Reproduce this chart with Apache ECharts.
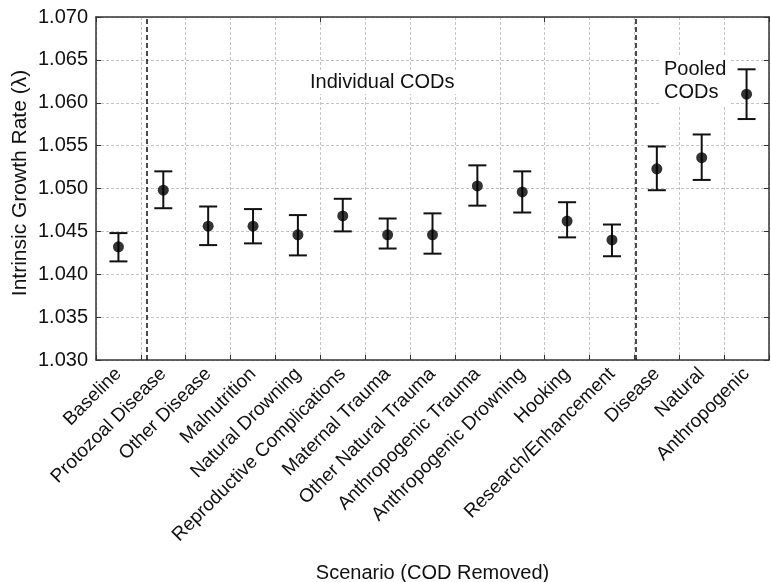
<!DOCTYPE html>
<html>
<head>
<meta charset="utf-8">
<script src="https://cdn.jsdelivr.net/npm/echarts@6/dist/echarts.min.js"></script>
<style>
html,body{margin:0;padding:0;background:#fff;}
#chart{width:771px;height:582px;}
</style>
</head>
<body>
<div id="chart"></div>
<script>
const categories = ['Baseline','Protozoal Disease','Other Disease','Malnutrition','Natural Drowning','Reproductive Complications','Maternal Trauma','Other Natural Trauma','Anthropogenic Trauma','Anthropogenic Drowning','Hooking','Research/Enhancement','Disease','Natural','Anthropogenic'];
const means = [1.0432,1.0498,1.0456,1.0456,1.0446,1.0468,1.0446,1.0446,1.0503,1.0496,1.0462,1.0440,1.0523,1.0536,1.0610];
const lower = [1.0415,1.0477,1.0434,1.0436,1.0422,1.0450,1.0430,1.0424,1.0480,1.0472,1.0443,1.0421,1.0498,1.0510,1.0581];
const upper = [1.0448,1.0520,1.0479,1.0476,1.0469,1.0488,1.0465,1.0471,1.0527,1.0520,1.0484,1.0458,1.0549,1.0563,1.0639];
const dividerPositions = [0.62, 11.53];
const yMin = 1.030, yMax = 1.070, yStep = 0.005;
const yTitle = 'Intrinsic Growth Rate (λ)';
const xTitle = 'Scenario (COD Removed)';
const groupLabels = ['Individual CODs', 'Pooled\nCODs'];

const FONT = '"Liberation Sans", Arial, sans-serif';
const chart = echarts.init(document.getElementById('chart'));
const axisLineStyle = {color:'#333', width:1.5};
const gridLine = {show:true, lineStyle:{color:'#c4c4c4', type:[3,2], width:1}};
const tickStyle = {show:true, inside:true, length:5, lineStyle:{color:'#333', width:1}};

const errData = categories.map((c,i)=>[i, lower[i], upper[i]]);

chart.setOption({
  animation:false,
  grid:{left:96, right:2, top:17, bottom:222, containLabel:false, outerBoundsMode:'none'},
  xAxis:[
    {type:'category', data:categories, boundaryGap:true,
     axisLine:{onZero:false, lineStyle:axisLineStyle}, axisTick:tickStyle,
     splitLine:gridLine,
     axisLabel:{rotate:45, fontFamily:FONT, fontSize:19, color:'#111', margin:11, interval:0},
     name:xTitle, nameLocation:'middle', nameGap:203,
     nameTextStyle:{fontFamily:FONT, fontSize:20, color:'#111'}},
    {type:'category', data:categories, position:'top', boundaryGap:true,
     axisLine:{onZero:false, lineStyle:axisLineStyle}, axisTick:tickStyle,
     axisLabel:{show:false}, splitLine:{show:false}},
    {type:'value', min:-0.5, max:14.5, show:false}
  ],
  yAxis:[
    {type:'value', min:yMin, max:yMax, interval:yStep, position:'left',
     axisLine:{show:true, onZero:false, lineStyle:axisLineStyle}, axisTick:tickStyle,
     splitLine:gridLine,
     axisLabel:{formatter:v=>v.toFixed(3), fontFamily:FONT, fontSize:20, color:'#111', margin:8}},
    {type:'value', min:yMin, max:yMax, interval:yStep, position:'right',
     axisLine:{show:true, onZero:false, lineStyle:axisLineStyle}, axisTick:tickStyle,
     axisLabel:{show:false}, splitLine:{show:false}}
  ],
  series:[
    {type:'custom', xAxisIndex:0, yAxisIndex:0, data:errData, z:3,
     renderItem:function(params, api){
       const x = api.value(0);
       const lo = api.coord([x, api.value(1)]);
       const hi = api.coord([x, api.value(2)]);
       const half = 9;
       const st = {stroke:'#111', lineWidth:2};
       return {type:'group', children:[
         {type:'line', shape:{x1:lo[0], y1:lo[1], x2:hi[0], y2:hi[1]}, style:st},
         {type:'line', shape:{x1:lo[0]-half, y1:lo[1], x2:lo[0]+half, y2:lo[1]}, style:st},
         {type:'line', shape:{x1:hi[0]-half, y1:hi[1], x2:hi[0]+half, y2:hi[1]}, style:st}
       ]};
     }},
    {type:'scatter', xAxisIndex:0, yAxisIndex:0, data:means.map((m,i)=>[i,m]),
     symbol:'circle', symbolSize:11, itemStyle:{color:'#000'}, z:4},
    {type:'line', xAxisIndex:2, yAxisIndex:0, data:[], silent:true,
     markLine:{symbol:'none', silent:true, label:{show:false},
       lineStyle:{color:'#111', type:[5,3], width:1.5},
       data:dividerPositions.map(p=>({xAxis:p}))}}
  ],
  graphic:[
    {type:'text', x:20, y:183, rotation:Math.PI/2, z:10,
     style:{text:yTitle, font:'21px '+FONT, fill:'#111', align:'center', verticalAlign:'middle'}},
    {type:'text', left:307, top:70, z:10,
     style:{text:groupLabels[0], font:'20px '+FONT, fill:'#111', backgroundColor:'#fff', padding:[2,3]}},
    {type:'text', left:660, top:56, z:10,
     style:{text:groupLabels[1], font:'20px '+FONT, fill:'#111', lineHeight:23, backgroundColor:'#fff', padding:[2,4]}}
  ]
});
</script>
</body>
</html>
